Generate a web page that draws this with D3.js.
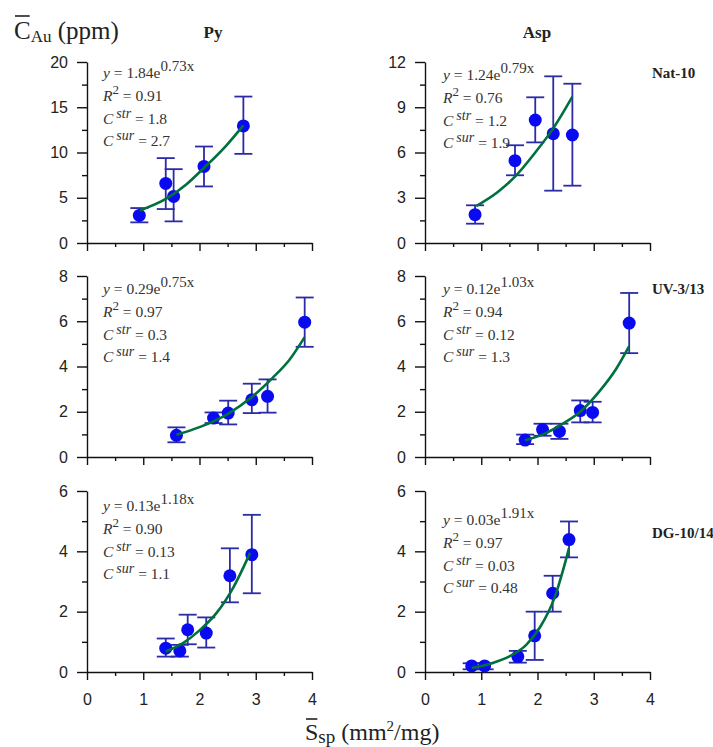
<!DOCTYPE html>
<html>
<head>
<meta charset="utf-8">
<script src="https://cdn.jsdelivr.net/npm/d3@7"></script>
<style>
  body { margin: 0; background: #fff; }
  text { white-space: pre; }
</style>
</head>
<body>
<div id="main"></div>
<script>
// columns = minerals, rows = samples
const minerals = ["Py", "Asp"];
const samples = ["Nat-10", "UV-3/13", "DG-10/14"];
const xTicks = [0, 1, 2, 3, 4];
const xMinor = [0.5, 1.5, 2.5, 3.5];

const yTicks = [[0, 5, 10, 15, 20], [0, 3, 6, 9, 12], [0, 2, 4, 6, 8], [0, 2, 4, 6, 8], [0, 2, 4, 6], [0, 2, 4, 6]];
const yMinor = [[2.5, 7.5, 12.5, 17.5], [1.5, 4.5, 7.5, 10.5], [1, 3, 5, 7], [1, 3, 5, 7], [1, 3, 5], [1, 3, 5]];

// [S, C, lower, upper]
const pyNat10 = [[0.93, 3.05, 2.28, 3.86], [1.40, 6.58, 3.75, 9.38], [1.54, 5.15, 2.39, 8.16], [2.08, 8.46, 6.25, 10.66], [2.78, 12.94, 9.85, 16.18]];
const aspNat10 = [[0.89, 1.88, 1.28, 2.50], [1.60, 5.46, 4.49, 6.48], [1.96, 8.15, 6.67, 9.66], [2.28, 7.25, 3.47, 11.05], [2.62, 7.16, 3.80, 10.56]];
const pyUV313 = [[1.59, 0.96, 0.65, 1.31], [2.25, 1.72, 1.50, 1.97], [2.51, 1.94, 1.44, 2.49], [2.93, 2.53, 1.94, 3.24], [3.21, 2.68, 1.96, 3.43], [3.87, 5.96, 4.87, 7.05]];
const aspUV313 = [[1.78, 0.75, 0.57, 0.99], [2.09, 1.21, 0.94, 1.47], [2.39, 1.13, 0.80, 1.47], [2.76, 2.05, 1.53, 2.50], [2.98, 1.97, 1.53, 2.44], [3.63, 5.92, 4.59, 7.25]];
const pyDG1014 = [[1.40, 0.79, 0.51, 1.11], [1.65, 0.70, 0.51, 0.90], [1.79, 1.40, 0.92, 1.90], [2.12, 1.29, 0.81, 1.81], [2.54, 3.19, 2.31, 4.10], [2.93, 3.89, 2.61, 5.21]];
const aspDG1014 = [[0.83, 0.20, 0.09, 0.29], [1.06, 0.20, 0.09, 0.29], [1.65, 0.51, 0.31, 0.70], [1.95, 1.20, 0.40, 2.00], [2.27, 2.61, 2.00, 3.19], [2.56, 4.39, 3.80, 4.99]];

// fitted curves
const pyNat10Fit = [[0.94, 3.6], [1.41, 4.9], [1.77, 6.5], [2.08, 8.3], [2.48, 10.8], [2.78, 13.0]];
const aspNat10Fit = [[0.91, 2.45], [1.3, 3.4], [1.6, 4.4], [1.96, 6.0], [2.28, 7.6], [2.62, 9.7]];
const pyUV313Fit = [[1.59, 0.98], [2.0, 1.32], [2.5, 1.9], [2.93, 2.65], [3.3, 3.5], [3.6, 4.3], [3.87, 5.3]];
const aspUV313Fit = [[1.78, 0.74], [2.1, 1.0], [2.4, 1.4], [2.76, 2.0], [3.1, 2.9], [3.4, 3.9], [3.63, 4.9]];
const pyDG1014Fit = [[1.40, 0.68], [1.7, 0.95], [2.0, 1.38], [2.3, 1.95], [2.6, 2.8], [2.9, 3.95]];
const aspDG1014Fit = [[0.83, 0.13], [1.2, 0.3], [1.5, 0.52], [1.8, 0.9], [2.05, 1.5], [2.3, 2.45], [2.56, 4.1]];

const fitA = ["1.84", "1.24", "0.29", "0.12", "0.13", "0.03"];
const fitB = ["0.73", "0.79", "0.75", "1.03", "1.18", "1.91"];
const rSquared = ["0.91", "0.76", "0.97", "0.94", "0.90", "0.97"];
const cStr = ["1.8", "1.2", "0.3", "0.12", "0.13", "0.03"];
const cSur = ["2.7", "1.9", "1.4", "1.3", "1.1", "0.48"];

const points = [pyNat10, aspNat10, pyUV313, aspUV313, pyDG1014, aspDG1014];
const fits = [pyNat10Fit, aspNat10Fit, pyUV313Fit, aspUV313Fit, pyDG1014Fit, aspDG1014Fit];

// layout
const width = 713, height = 747;
const colLeft = [87, 425];
const rowTop = [62, 276, 491];
const pw = 225, ph = 181;
const statTop = [16, 18, 18, 18, 20, 34];

const serif = "'Liberation Serif', 'Times New Roman', serif";
const sans = "'Liberation Sans', Arial, sans-serif";

const svg = d3.select("#main").append("svg")
    .attr("width", width)
    .attr("height", height)
    .attr("viewBox", [0, 0, width, height]);

const line = d3.line().curve(d3.curveMonotoneX);

function statLine(g, x, y, parts) {
    const t = g.append("text")
        .attr("x", x).attr("y", y)
        .style("font-family", serif)
        .attr("font-size", 15.5)
        .attr("fill", "#333");
    let shift = 0;
    parts.forEach(p => {
        const want = p.up || 0;
        const ts = t.append("tspan").text(p.t).attr("dy", shift - want);
        shift = want;
        if (p.it) ts.attr("font-style", "italic");
        if (p.size) ts.attr("font-size", p.size);
        if (p.dx) ts.attr("dx", p.dx);
    });
}

for (let r = 0; r < 3; r++) {
    for (let c = 0; c < 2; c++) {
        const i = r * 2 + c;
        const x0 = colLeft[c], y0 = rowTop[r];
        const yt = yTicks[i];

        const x = d3.scaleLinear().domain([0, 4]).range([x0, x0 + pw]);
        const y = d3.scaleLinear().domain([0, yt[yt.length - 1]]).range([y0 + ph, y0]);

        const g = svg.append("g");

        // axes
        g.append("g").attr("transform", `translate(0,${y0 + ph})`)
            .call(d3.axisBottom(x).tickValues(xTicks).tickSize(8).tickSizeOuter(0).tickPadding(14)
                .tickFormat(r === 2 ? d3.format("d") : ""));
        g.append("g").attr("transform", `translate(0,${y0 + ph})`)
            .call(d3.axisBottom(x).tickValues(xMinor).tickSize(4).tickFormat(""))
            .call(a => a.select(".domain").remove());
        g.append("g").attr("transform", `translate(${x0},0)`)
            .call(d3.axisLeft(y).tickValues(yt).tickSize(10).tickSizeOuter(0).tickPadding(9)
                .tickFormat(d3.format("d")));
        g.append("g").attr("transform", `translate(${x0},0)`)
            .call(d3.axisLeft(y).tickValues(yMinor[i]).tickSize(5).tickFormat(""))
            .call(a => a.select(".domain").remove());

        g.selectAll(".domain, .tick line").attr("stroke", "#111").attr("stroke-width", 1.4);
        g.selectAll(".tick text").attr("font-family", sans).attr("font-size", 16).attr("fill", "#222");

        // error bars
        const eb = g.append("g").attr("stroke", "#2b2ba8").attr("stroke-width", 1.8).attr("fill", "none");
        points[i].forEach(d => {
            eb.append("line").attr("x1", x(d[0])).attr("x2", x(d[0])).attr("y1", y(d[2])).attr("y2", y(d[3]));
            eb.append("line").attr("x1", x(d[0]) - 9).attr("x2", x(d[0]) + 9).attr("y1", y(d[2])).attr("y2", y(d[2]));
            eb.append("line").attr("x1", x(d[0]) - 9).attr("x2", x(d[0]) + 9).attr("y1", y(d[3])).attr("y2", y(d[3]));
        });

        // dots
        g.append("g").attr("fill", "#0a0af0")
            .selectAll("circle")
            .data(points[i])
            .join("circle")
            .attr("cx", d => x(d[0]))
            .attr("cy", d => y(d[1]))
            .attr("r", 6.5);

        // fit curve
        g.append("path")
            .attr("d", line.x(d => x(d[0])).y(d => y(d[1]))(fits[i]))
            .attr("fill", "none")
            .attr("stroke", "#00703f")
            .attr("stroke-width", 2.6);

        // statistics
        const tx = x0 + (c === 0 ? 16 : 18);
        const ty = y0 + statTop[i];
        statLine(g, tx, ty, [{t: "y", it: true}, {t: " = " + fitA[i] + "e"}, {t: fitB[i] + "x", up: 7, size: 15}]);
        statLine(g, tx, ty + 23, [{t: "R", it: true}, {t: "2", up: 7, size: 13}, {t: " = " + rSquared[i]}]);
        statLine(g, tx, ty + 46, [{t: "C", it: true}, {t: "str", it: true, up: 6, size: 14, dx: 3}, {t: " = " + cStr[i]}]);
        statLine(g, tx, ty + 68, [{t: "C", it: true}, {t: "sur", it: true, up: 6, size: 14, dx: 3}, {t: " = " + cSur[i]}]);
    }
}

// column titles
minerals.forEach((m, c) => {
    svg.append("text")
        .attr("x", colLeft[c] + [126, 112][c])
        .attr("y", 38)
        .attr("text-anchor", "middle")
        .style("font-family", serif)
        .attr("font-weight", "bold")
        .attr("font-size", 17)
        .attr("fill", "#222")
        .text(m);
});

// sample labels
samples.forEach((s, r) => {
    svg.append("text")
        .attr("x", 652)
        .attr("y", rowTop[r] + [16, 18, 47][r])
        .style("font-family", serif)
        .attr("font-weight", "bold")
        .attr("font-size", 15)
        .attr("fill", "#222")
        .text(s);
});

// y axis title
const yl = svg.append("text")
    .attr("x", 14).attr("y", 39)
    .style("font-family", serif)
    .attr("font-size", 25)
    .attr("fill", "#222");
const yC = yl.append("tspan").text("C");
yl.append("tspan").text("Au").attr("font-size", 17).attr("dy", 3);
yl.append("tspan").text(" (ppm)").attr("dy", -3);
const cw = yC.node().getComputedTextLength();
svg.append("line").attr("x1", 15).attr("x2", 14 + cw - 1).attr("y1", 16).attr("y2", 16)
    .attr("stroke", "#222").attr("stroke-width", 1.6);

// x axis title
const xl = svg.append("text")
    .attr("x", 305).attr("y", 740)
    .style("font-family", serif)
    .attr("font-size", 24)
    .attr("fill", "#222");
const xS = xl.append("tspan").text("S");
xl.append("tspan").text("sp").attr("font-size", 19).attr("dy", 3);
xl.append("tspan").text(" (mm").attr("dy", -3);
xl.append("tspan").text("2").attr("font-size", 15).attr("dy", -9);
xl.append("tspan").text("/mg)").attr("dy", 9);
const sw = xS.node().getComputedTextLength();
svg.append("line").attr("x1", 306).attr("x2", 305 + sw - 1).attr("y1", 719).attr("y2", 719)
    .attr("stroke", "#222").attr("stroke-width", 1.6);
</script>
</body>
</html>
